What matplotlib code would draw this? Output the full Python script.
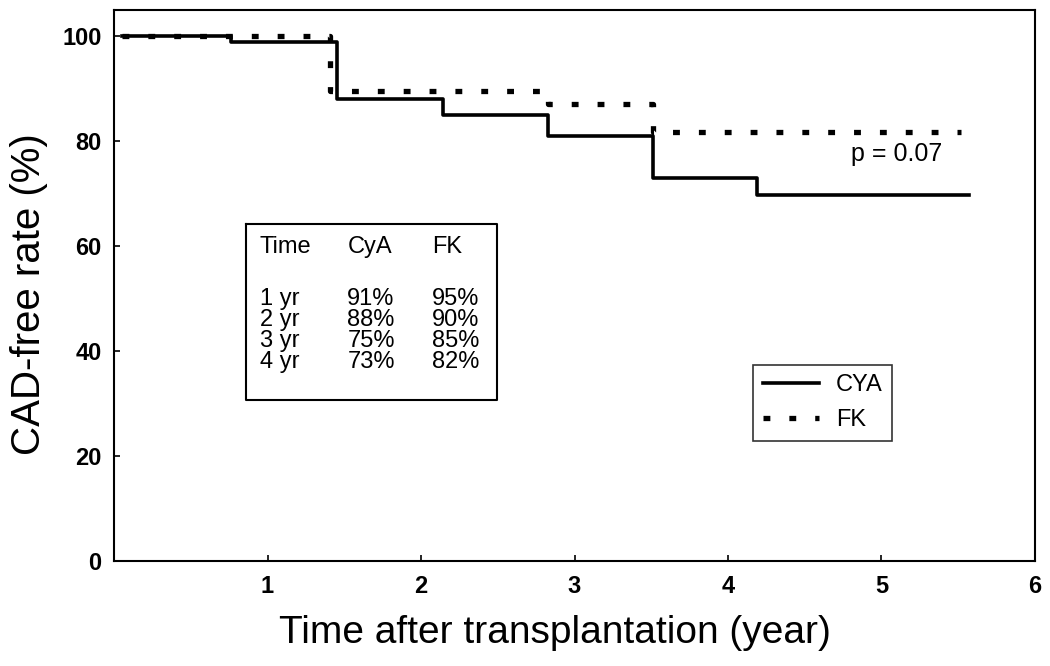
import matplotlib
matplotlib.use("Agg")
import matplotlib.pyplot as plt

plt.rcParams['font.family'] = ['Liberation Sans', 'DejaVu Sans']

# Kaplan-Meier style step data
cya_time = [0.05, 0.76, 1.45, 2.14, 2.83, 3.51, 4.19, 5.57]
cya_rate = [100, 98.9, 88, 85, 81, 73, 69.7, 69.7]
fk_time = [0.05, 1.41, 2.83, 3.51, 5.52]
fk_rate = [100, 89.5, 87, 81.7, 81.7]

tbl_head = ['Time', 'CyA', 'FK']
tbl_time = ['1 yr', '2 yr', '3 yr', '4 yr']
tbl_cya = ['91%', '88%', '75%', '73%']
tbl_fk = ['95%', '90%', '85%', '82%']

fig = plt.figure(figsize=(10.5, 6.66), dpi=100)
ax = fig.add_axes([0.1086, 0.1577, 0.8771, 0.8273])

ax.step(cya_time, cya_rate, where='post', color='black', lw=2.6, label='CYA')
ax.step(fk_time, fk_rate, where='post', color='black', lw=3.8,
        linestyle=(0, (1.3, 3.6)), label='FK')

ax.set_xlim(0, 6)
ax.set_ylim(0, 105)
ax.set_xticks([1, 2, 3, 4, 5, 6])
ax.set_yticks([0, 20, 40, 60, 80, 100])
ax.tick_params(direction='in', length=4, width=1.2, labelsize=17)
ax.tick_params(axis='x', pad=10)
ax.tick_params(axis='y', pad=9)
for lab in ax.get_xticklabels() + ax.get_yticklabels():
    lab.set_fontweight('bold')
for s in ax.spines.values():
    s.set_linewidth(1.5)

ax.set_xlabel('Time after transplantation (year)', fontsize=28)
ax.xaxis.set_label_coords(0.479, -0.098)
ax.set_ylabel('CAD-free rate (%)', fontsize=29)
ax.yaxis.set_label_coords(-0.072, 0.485)

# inset table
x0, x1 = 0.863, 2.497
y0, y1 = 30.7, 64.3
ax.plot([x0, x1, x1, x0, x0], [y1, y1, y0, y0, y1], color='black', lw=1.5)
cols = [0.95, 1.52, 2.07]
for c, h in zip(cols, tbl_head):
    ax.text(c, 62.0, h, fontsize=17, va='top')
for i in range(len(tbl_time)):
    yy = 52.0 - i * 4.0
    ax.text(cols[0], yy, tbl_time[i], fontsize=17, va='top')
    ax.text(cols[1], yy, tbl_cya[i], fontsize=17, va='top')
    ax.text(cols[2], yy, tbl_fk[i], fontsize=17, va='top')

ax.text(4.8, 77.5, 'p = 0.07', fontsize=18, va='center')

leg = ax.legend(loc='lower left', bbox_to_anchor=(0.694, 0.218), fontsize=17,
                frameon=True, fancybox=False, edgecolor='black',
                handlelength=2.4, handletextpad=0.7, borderpad=0.4,
                labelspacing=0.55, borderaxespad=0)
leg.get_frame().set_linewidth(1.2)

fig.savefig('out.png', dpi=100)
